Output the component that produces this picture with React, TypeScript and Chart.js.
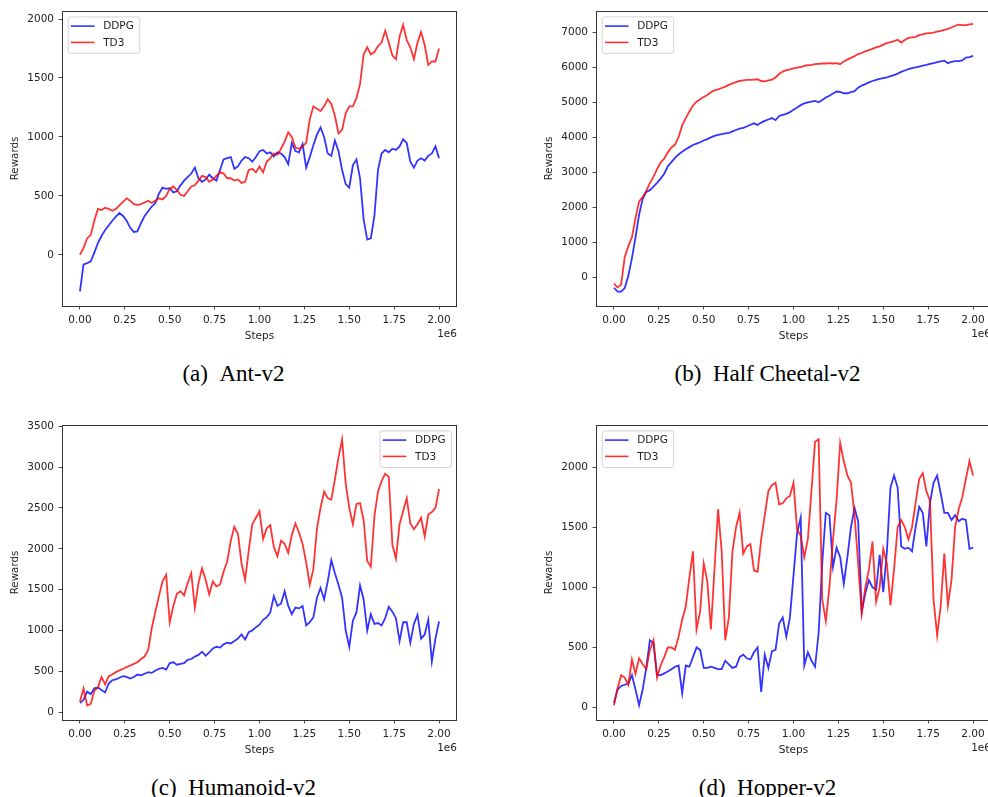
import React, { useEffect, useRef } from 'react';
import { Chart, registerables } from 'chart.js';

Chart.register(...registerables);

// ---------- data ----------
const STEPS = [
  0, 0.02, 0.04, 0.06, 0.08, 0.1, 0.12, 0.14, 0.16, 0.18,
  0.2, 0.22, 0.24, 0.26, 0.28, 0.3, 0.32, 0.34, 0.36, 0.38,
  0.4, 0.42, 0.44, 0.46, 0.48, 0.5, 0.52, 0.54, 0.56, 0.58,
  0.6, 0.62, 0.64, 0.66, 0.68, 0.7, 0.72, 0.74, 0.76, 0.78,
  0.8, 0.82, 0.84, 0.86, 0.88, 0.9, 0.92, 0.94, 0.96, 0.98,
  1.0, 1.02, 1.04, 1.06, 1.08, 1.1, 1.12, 1.14, 1.16, 1.18,
  1.2, 1.22, 1.24, 1.26, 1.28, 1.3, 1.32, 1.34, 1.36, 1.38,
  1.4, 1.42, 1.44, 1.46, 1.48, 1.5, 1.52, 1.54, 1.56, 1.58,
  1.6, 1.62, 1.64, 1.66, 1.68, 1.7, 1.72, 1.74, 1.76, 1.78,
  1.8, 1.82, 1.84, 1.86, 1.88, 1.9, 1.92, 1.94, 1.96, 1.98,
  2.0,
];

const X_TICKS = [0, 0.25, 0.5, 0.75, 1.0, 1.25, 1.5, 1.75, 2.0];
const SERIES_LABELS = ['DDPG', 'TD3'];

const ANT_DDPG = [
  -310, -80, -70, -55, 20, 100, 160, 210, 250, 290,
  325, 355, 330, 290, 230, 195, 200, 270, 330, 370,
  410, 440, 520, 570, 560, 565, 530, 540, 590, 630,
  660, 690, 740, 650, 620, 640, 680, 650, 630, 720,
  810, 820, 830, 730, 750, 800, 830, 820, 790, 830,
  880, 890, 860, 870, 835, 870, 860, 830, 770, 950,
  880, 870, 940, 740, 830, 930, 1020, 1080, 1000, 860,
  840, 970, 880, 720, 600, 570, 760, 810, 650, 300,
  130, 140, 330, 720, 860, 890, 870, 900, 890, 920,
  980, 950, 790, 740, 800, 820, 800, 840, 860, 920,
  820,
];
const ANT_TD3 = [
  0, 60, 140, 170, 290, 390, 380, 400, 390, 375,
  390, 420, 450, 480, 460, 430, 425, 430, 445, 460,
  440, 460, 480, 470, 500, 560, 580, 550, 510, 500,
  540, 580, 590, 630, 670, 660, 620, 640, 670, 700,
  690, 650, 650, 630, 640, 610, 620, 720, 730, 700,
  750, 700, 790, 820, 860, 850, 900, 960, 1040, 1000,
  910, 900, 920, 950, 1150, 1260, 1240, 1220, 1260, 1320,
  1280, 1180, 1030, 1060, 1200, 1260, 1260, 1330, 1450, 1700,
  1760, 1700, 1720, 1770, 1800, 1900, 1800, 1690, 1660, 1850,
  1950, 1820, 1760, 1660, 1800, 1890, 1780, 1610, 1640, 1640,
  1750,
];
const ANT_Y_TICKS = [0, 500, 1000, 1500, 2000];

const CHEETAH_DDPG = [
  -290, -400, -400, -300, 50, 550, 1150, 1800, 2250, 2450,
  2500, 2600, 2710, 2830, 2970, 3180, 3300, 3420, 3520, 3600,
  3670, 3730, 3790, 3830, 3870, 3920, 3960, 4010, 4050, 4080,
  4100, 4120, 4140, 4180, 4220, 4260, 4280, 4320, 4370, 4410,
  4360, 4430, 4480, 4520, 4560, 4500, 4620, 4650, 4680, 4730,
  4800, 4860, 4930, 4980, 5010, 5030, 5050, 5010, 5080, 5150,
  5200, 5260, 5320, 5310, 5270, 5270, 5300, 5330, 5430, 5490,
  5530, 5580, 5620, 5650, 5680, 5700, 5720, 5760, 5790, 5830,
  5880, 5920, 5960, 5990, 6010, 6030, 6060, 6080, 6110, 6130,
  6160, 6180, 6200, 6130, 6170, 6190, 6190, 6210, 6290, 6300,
  6340,
];
const CHEETAH_TD3 = [
  -170, -280, -200, 590, 900, 1150, 1700, 2180, 2300, 2480,
  2700, 2880, 3100, 3290, 3400, 3580, 3720, 3800, 4020, 4350,
  4560, 4750, 4920, 5030, 5100, 5160, 5220, 5300, 5350, 5380,
  5420, 5460, 5510, 5550, 5590, 5620, 5640, 5650, 5650, 5660,
  5670, 5620, 5610, 5640, 5660, 5720, 5820, 5890, 5930, 5950,
  5980, 6000, 6020, 6050, 6070, 6080, 6100, 6110, 6120, 6120,
  6130, 6120, 6130, 6100, 6180, 6230, 6280, 6330, 6390, 6420,
  6470, 6500, 6540, 6580, 6610, 6660, 6700, 6730, 6760, 6800,
  6720, 6790, 6850, 6870, 6880, 6930, 6950, 6980, 6990, 7000,
  7030, 7050, 7080, 7110, 7150, 7200, 7230, 7220, 7220, 7240,
  7250,
];
const CHEETAH_Y_TICKS = [0, 1000, 2000, 3000, 4000, 5000, 6000, 7000];

const HUMANOID_DDPG = [
  110, 150, 250, 220, 290, 300, 270, 240, 350, 390,
  400, 420, 440, 430, 410, 430, 460, 450, 470, 490,
  480, 510, 530, 540, 520, 600, 610, 580, 590, 600,
  640, 650, 680, 700, 740, 690, 730, 780, 800, 790,
  830, 850, 840, 870, 900, 950, 890, 980, 1000, 1040,
  1070, 1130, 1160, 1220, 1420, 1300, 1330, 1480, 1300, 1200,
  1280, 1270, 1300, 1060, 1100, 1160, 1400, 1520, 1380, 1600,
  1860, 1700, 1560, 1400, 1000, 800, 1120, 1220, 1550, 1380,
  1000, 1200, 1080, 1090, 1060, 1150, 1290, 1230, 1150, 870,
  1100, 1100, 850, 1080, 1190, 900, 950, 1130, 620, 900,
  1110,
];
const HUMANOID_TD3 = [
  130, 290, 80, 100, 260, 300, 430, 340, 440, 460,
  490, 510, 530, 550, 570, 590, 610, 650, 680, 760,
  1030, 1230, 1420, 1600, 1680, 1100, 1300, 1450, 1480, 1430,
  1580, 1700, 1280, 1580, 1760, 1620, 1440, 1600, 1540, 1560,
  1720, 1840, 2100, 2270, 2180, 1820, 1620, 1980, 2300, 2380,
  2460, 2120, 2250, 2290, 2020, 1910, 2100, 2060, 1950, 2170,
  2310, 2200, 2060, 1830, 1560, 1750, 2250, 2500, 2700, 2620,
  2600, 2850, 3120, 3340, 2800, 2500, 2300, 2550, 2560, 2350,
  1850, 1780, 2400, 2700, 2830, 2920, 2880, 2050, 1880, 2300,
  2460, 2620, 2310, 2240, 2300, 2380, 2150, 2420, 2450, 2500,
  2730,
];
const HUMANOID_Y_TICKS = [0, 500, 1000, 1500, 2000, 2500, 3000, 3500];

const HOPPER_DDPG = [
  40, 150, 180, 190, 200, 270, 150, 20, 150, 330,
  560, 540, 270, 270, 285, 300, 320, 340, 350, 120,
  350, 340, 420, 500, 480, 330, 330, 340, 330, 320,
  320, 390, 360, 330, 340, 420, 440, 410, 400, 460,
  500, 130, 440, 330, 470, 480, 700, 750, 590, 750,
  1100, 1450, 1580, 350, 460, 390, 340, 620, 1200, 1620,
  1600, 1170, 1330, 1250, 1030, 1250, 1500, 1660, 1550, 800,
  950, 1060, 1000, 980, 1270, 960, 1290, 1830, 1930, 1830,
  1340, 1320, 1330, 1300, 1500, 1670, 1620, 1340, 1700, 1870,
  1930, 1780, 1620, 1620, 1560, 1600, 1550, 1570, 1560, 1320,
  1330,
];
const HOPPER_TD3 = [
  20, 160, 270, 250, 190, 400, 280, 410, 360, 320,
  480, 560, 250, 350, 420, 500, 500, 480, 590, 730,
  840, 1080, 1300, 650, 800, 1200, 1050, 650, 1150, 1650,
  1300, 560, 750, 1300, 1500, 1620, 1280, 1340, 1360, 1140,
  1130, 1400, 1600, 1800, 1850, 1870, 1690, 1700, 1740, 1760,
  1870, 1480, 1430, 1250, 1400, 1800, 2210, 2230, 900, 720,
  1000, 1400, 1730, 2200, 2050, 1930, 1870, 1600, 1200, 780,
  1000, 1150, 1380, 880, 1000, 1320, 1200, 850, 1150, 1500,
  1560, 1500, 1400, 1500, 1700, 1900, 1950, 1800, 1720, 900,
  600, 850, 1280, 850, 1060, 1500, 1650, 1750, 1900, 2050,
  1930,
];
const HOPPER_Y_TICKS = [0, 500, 1000, 1500, 2000];

const CAPTION_TAGS = ['(a)', '(b)', '(c)', '(d)'];
const CAPTION_NAMES = ['Ant-v2', 'Half Cheetal-v2', 'Humanoid-v2', 'Hopper-v2'];

// ---------- styling / layout ----------
const BLUE = 'rgba(0,0,255,0.8)';
const RED = 'rgba(255,0,0,0.8)';
const TEXT = '#222222';
const FRAME = '#333333';
const SANS = '"DejaVu Sans", sans-serif';

const CANVAS_W = 494;
const CANVAS_H = 350;

const framePlugin = {
  id: 'mplFrame',
  afterDatasetsDraw(chart: any) {
    const { ctx, chartArea: a } = chart;
    ctx.save();
    ctx.strokeStyle = FRAME;
    ctx.lineWidth = 1;
    ctx.strokeRect(Math.round(a.left) + 0.5, Math.round(a.top) + 0.5, Math.round(a.right - a.left) - 1, Math.round(a.bottom - a.top));
    ctx.restore();
  },
  afterDraw(chart: any, _args: any, opts: any) {
    const { ctx, chartArea: a } = chart;
    ctx.save();
    // offset text "1e6"
    ctx.font = `10.5px ${SANS}`;
    ctx.fillStyle = TEXT;
    ctx.textAlign = 'right';
    ctx.textBaseline = 'middle';
    ctx.fillText('1e6', a.right, a.bottom + 28.5);

    // legend
    const w = 71.5;
    const h = 36.5;
    const x0 = opts.side === 'right' ? a.right - 6 - w : a.left + 5.7;
    const y0 = a.top + 5.4;
    ctx.beginPath();
    ctx.roundRect(x0 + 0.5, y0 + 0.5, w, h, 2.5);
    ctx.fillStyle = 'rgba(255,255,255,0.8)';
    ctx.fill();
    ctx.strokeStyle = '#d4d4d4';
    ctx.lineWidth = 1;
    ctx.stroke();
    chart.data.datasets.forEach((ds: any, i: number) => {
      const y = y0 + 9.7 + i * 16.3;
      ctx.beginPath();
      ctx.moveTo(x0 + 3.3, y);
      ctx.lineTo(x0 + 26.8, y);
      ctx.strokeStyle = ds.borderColor;
      ctx.lineWidth = 1.6;
      ctx.stroke();
      ctx.fillStyle = TEXT;
      ctx.textAlign = 'left';
      ctx.textBaseline = 'middle';
      ctx.font = `10.5px ${SANS}`;
      ctx.fillText(ds.label, x0 + 35.5, y + 0.5);
    });
    ctx.restore();
  },
};

type PanelProps = {
  ddpg: number[];
  td3: number[];
  yTicks: number[];
  yMin: number;
  yMax: number;
  side: 'left' | 'right';
  left: number;
  top: number;
  tag: string;
  name: string;
};

function Panel(p: PanelProps) {
  const ref = useRef<HTMLCanvasElement | null>(null);
  useEffect(() => {
    if (!ref.current) return;
    const font = { family: SANS, size: 10.5 };
    const chart = new Chart(ref.current, {
      type: 'line',
      data: {
        datasets: [
          {
            label: SERIES_LABELS[0],
            data: STEPS.map((x, i) => ({ x, y: p.ddpg[i] })),
            borderColor: BLUE,
            borderWidth: 1.8,
            pointRadius: 0,
            tension: 0,
            fill: false,
            order: 1,
          },
          {
            label: SERIES_LABELS[1],
            data: STEPS.map((x, i) => ({ x, y: p.td3[i] })),
            borderColor: RED,
            borderWidth: 1.8,
            pointRadius: 0,
            tension: 0,
            fill: false,
            order: 0,
          },
        ],
      },
      options: {
        animation: false,
        responsive: false,
        devicePixelRatio: 1,
        events: [],
        layout: { padding: { left: 0, top: 11, right: CANVAS_W - 457, bottom: 7 } },
        plugins: {
          legend: { display: false },
          tooltip: { enabled: false },
          mplFrame: { side: p.side },
        } as any,
        scales: {
          x: {
            type: 'linear',
            min: -0.1,
            max: 2.1,
            afterBuildTicks: (s: any) => {
              s.ticks = X_TICKS.map((v) => ({ value: v }));
            },
            afterFit: (s: any) => {
              s.height = 37;
            },
            ticks: {
              callback: (v: any) => Number(v).toFixed(2),
              font,
              color: TEXT,
              padding: 4.5,
              maxRotation: 0,
              autoSkip: false,
            },
            grid: {
              display: true,
              drawOnChartArea: false,
              drawTicks: true,
              tickLength: 3.5,
              tickColor: FRAME,
              tickWidth: 0.9,
            },
            border: { display: false },
            title: { display: true, text: 'Steps', font, color: TEXT, padding: { top: 0, bottom: 0 } },
          },
          y: {
            type: 'linear',
            min: p.yMin,
            max: p.yMax,
            afterBuildTicks: (s: any) => {
              s.ticks = p.yTicks.map((v) => ({ value: v }));
            },
            afterFit: (s: any) => {
              s.width = 62;
            },
            ticks: {
              callback: (v: any) => String(v),
              font,
              color: TEXT,
              padding: 4.5,
              autoSkip: false,
            },
            grid: {
              display: true,
              drawOnChartArea: false,
              drawTicks: true,
              tickLength: 3.5,
              tickColor: FRAME,
              tickWidth: 0.9,
            },
            border: { display: false },
            title: { display: true, text: 'Rewards', font: { family: SANS, size: 10.3 }, color: TEXT, padding: { top: 8.7, bottom: 0 } },
          },
        },
      } as any,
      plugins: [framePlugin as any],
    });
    return () => chart.destroy();
  }, []);

  return (
    <>
      <canvas
        ref={ref}
        width={CANVAS_W}
        height={CANVAS_H}
        style={{ position: 'absolute', left: p.left, top: p.top, width: CANVAS_W, height: CANVAS_H, display: 'block' }}
      />
      <div
        style={{
          position: 'absolute',
          left: p.left + 233.5,
          top: p.top + 361.5,
          transform: 'translateX(-50%)',
          whiteSpace: 'nowrap',
          fontFamily: '"Liberation Serif", serif',
          fontSize: 23,
          lineHeight: '23px',
          color: '#000',
        }}
      >
        <span>{p.tag}</span>
        <span style={{ marginLeft: 11.5 }}>{p.name}</span>
      </div>
    </>
  );
}

const PANELS: PanelProps[] = [
  { ddpg: ANT_DDPG, td3: ANT_TD3, yTicks: ANT_Y_TICKS, yMin: -433, yMax: 2068, side: 'left', left: 0, top: 0, tag: CAPTION_TAGS[0], name: CAPTION_NAMES[0] },
  { ddpg: CHEETAH_DDPG, td3: CHEETAH_TD3, yTicks: CHEETAH_Y_TICKS, yMin: -812, yMax: 7621, side: 'left', left: 534, top: 0, tag: CAPTION_TAGS[1], name: CAPTION_NAMES[1] },
  { ddpg: HUMANOID_DDPG, td3: HUMANOID_TD3, yTicks: HUMANOID_Y_TICKS, yMin: -97, yMax: 3516, side: 'right', left: 0, top: 414, tag: CAPTION_TAGS[2], name: CAPTION_NAMES[2] },
  { ddpg: HOPPER_DDPG, td3: HOPPER_TD3, yTicks: HOPPER_Y_TICKS, yMin: -103, yMax: 2350, side: 'left', left: 534, top: 414, tag: CAPTION_TAGS[3], name: CAPTION_NAMES[3] },
];

export default function App() {
  return (
    <div
      style={{
        position: 'absolute',
        left: 0,
        top: 0,
        width: 988,
        height: 797,
        overflow: 'hidden',
        background: '#ffffff',
      }}
    >
      {PANELS.map((p, i) => (
        <Panel key={i} {...p} />
      ))}
    </div>
  );
}
